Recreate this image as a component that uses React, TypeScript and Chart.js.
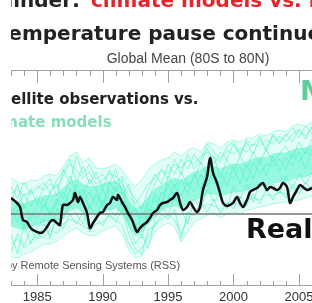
import React, { useEffect, useRef } from "react";
import { Chart, registerables } from "chart.js";

Chart.register(...registerables);

// ---- axis ticks ----
const tickYears = [1983, 1984, 1985, 1986, 1987, 1988, 1989, 1990, 1991, 1992, 1993, 1994, 1995, 1996, 1997, 1998, 1999, 2000, 2001, 2002, 2003, 2004, 2005, 2006];
const majorYears = [1985, 1990, 1995, 2000, 2005];
const majorLabels = ["1985", "1990", "1995", "2000", "2005"];

// ---- RSS observations (black) ----
const rssYears = [1983.0, 1983.46, 1983.69, 1983.92, 1984.22, 1984.45, 1984.68, 1985.22, 1985.45, 1985.75, 1985.98, 1986.21, 1986.51, 1986.74, 1986.97, 1987.28, 1987.51, 1987.74, 1987.89, 1988.12, 1988.27, 1988.5, 1988.81, 1989.04, 1989.27, 1989.57, 1989.8, 1990.03, 1990.34, 1990.56, 1990.79, 1991.1, 1991.18, 1991.48, 1991.71, 1991.94, 1992.25, 1992.48, 1992.63, 1992.86, 1993.09, 1993.39, 1993.62, 1993.85, 1994.16, 1994.39, 1994.62, 1994.92, 1995.15, 1995.38, 1995.69, 1995.92, 1996.15, 1996.45, 1996.68, 1996.91, 1997.21, 1997.44, 1997.67, 1997.98, 1998.21, 1998.44, 1998.74, 1998.97, 1999.2, 1999.5, 1999.73, 1999.96, 2000.27, 2000.5, 2000.73, 2001.03, 2001.26, 2001.49, 2001.8, 2002.03, 2002.26, 2002.56, 2002.79, 2003.02, 2003.33, 2003.55, 2003.78, 2004.09, 2004.32, 2004.55, 2004.85, 2005.08, 2005.31, 2005.62, 2006.0];
const rssValues = [0.16, 0.11, 0.07, -0.06, -0.08, -0.13, -0.16, -0.19, -0.18, -0.13, -0.08, -0.06, -0.09, -0.11, 0.09, 0.09, 0.11, 0.14, 0.21, 0.12, 0.17, 0.11, 0.01, -0.14, -0.09, -0.03, 0.01, 0.02, 0.09, 0.11, 0.17, 0.14, 0.19, 0.12, 0.07, 0.01, -0.06, -0.14, -0.18, -0.14, -0.11, -0.08, -0.04, 0.01, 0.04, 0.09, 0.11, 0.12, 0.14, 0.16, 0.21, 0.11, 0.04, 0.07, 0.12, 0.07, 0.02, 0.07, 0.24, 0.37, 0.56, 0.41, 0.31, 0.21, 0.11, 0.08, 0.09, 0.11, 0.17, 0.11, 0.07, 0.14, 0.22, 0.24, 0.26, 0.29, 0.31, 0.24, 0.27, 0.26, 0.24, 0.26, 0.31, 0.27, 0.11, 0.17, 0.24, 0.29, 0.27, 0.24, 0.26];

// ---- climate models (teal) ----
const modelYears = [1983.0, 1983.5, 1984.0, 1984.5, 1985.0, 1985.5, 1986.0, 1986.5, 1987.0, 1987.5, 1988.0, 1988.5, 1989.0, 1989.5, 1990.0, 1990.5, 1991.0, 1991.5, 1992.0, 1992.5, 1993.0, 1993.5, 1994.0, 1994.5, 1995.0, 1995.5, 1996.0, 1996.5, 1997.0, 1997.5, 1998.0, 1998.5, 1999.0, 1999.5, 2000.0, 2000.5, 2001.0, 2001.5, 2002.0, 2002.5, 2003.0, 2003.5, 2004.0, 2004.5, 2005.0, 2005.5, 2006.0];
const modelOuterUpper = [0.36, 0.32, 0.30, 0.34, 0.33, 0.38, 0.40, 0.38, 0.48, 0.58, 0.62, 0.52, 0.56, 0.46, 0.45, 0.47, 0.50, 0.44, 0.34, 0.28, 0.34, 0.44, 0.50, 0.54, 0.56, 0.62, 0.58, 0.64, 0.66, 0.62, 0.72, 0.70, 0.66, 0.72, 0.74, 0.72, 0.76, 0.76, 0.80, 0.78, 0.82, 0.84, 0.82, 0.88, 0.90, 0.88, 0.92];
const modelOuterLower = [-0.43, -0.44, -0.40, -0.38, -0.34, -0.30, -0.30, -0.27, -0.22, -0.17, -0.14, -0.19, -0.22, -0.21, -0.17, -0.14, -0.12, -0.20, -0.36, -0.44, -0.42, -0.30, -0.18, -0.12, -0.09, -0.13, -0.28, -0.18, -0.08, -0.05, -0.01, 0.01, -0.04, 0.00, 0.02, 0.00, 0.04, 0.05, 0.07, 0.08, 0.10, 0.11, 0.12, 0.13, 0.14, 0.16, 0.18];
const modelInnerUpper = [0.14, 0.12, 0.10, 0.13, 0.15, 0.18, 0.19, 0.20, 0.26, 0.32, 0.34, 0.30, 0.27, 0.28, 0.30, 0.32, 0.33, 0.27, 0.14, 0.05, 0.09, 0.17, 0.25, 0.29, 0.33, 0.36, 0.33, 0.38, 0.42, 0.44, 0.48, 0.48, 0.45, 0.48, 0.50, 0.50, 0.52, 0.55, 0.57, 0.56, 0.60, 0.61, 0.61, 0.64, 0.66, 0.66, 0.69];
const modelInnerLower = [-0.12, -0.14, -0.16, -0.13, -0.11, -0.08, -0.07, -0.07, -0.02, 0.04, 0.06, 0.02, 0.00, 0.00, 0.02, 0.04, 0.06, 0.00, -0.12, -0.22, -0.18, -0.10, -0.02, 0.03, 0.07, 0.08, 0.06, 0.10, 0.14, 0.16, 0.20, 0.20, 0.18, 0.20, 0.22, 0.22, 0.24, 0.26, 0.28, 0.28, 0.31, 0.32, 0.32, 0.35, 0.37, 0.37, 0.40];
const modelRun1 = [0.20, 0.25, 0.18, 0.22, 0.28, 0.24, 0.30, 0.26, 0.38, 0.50, 0.44, 0.36, 0.42, 0.30, 0.34, 0.40, 0.38, 0.30, 0.18, 0.10, 0.20, 0.30, 0.36, 0.44, 0.40, 0.50, 0.46, 0.54, 0.50, 0.58, 0.62, 0.56, 0.52, 0.64, 0.60, 0.66, 0.62, 0.70, 0.68, 0.74, 0.70, 0.78, 0.72, 0.80, 0.84, 0.78, 0.86];
const modelRun2 = [-0.30, -0.25, -0.34, -0.28, -0.20, -0.24, -0.15, -0.20, -0.10, -0.05, -0.08, -0.12, -0.16, -0.10, -0.08, -0.02, -0.05, -0.12, -0.30, -0.40, -0.34, -0.22, -0.10, -0.05, 0.00, -0.06, -0.20, -0.05, 0.02, 0.06, 0.10, 0.08, 0.04, 0.10, 0.12, 0.08, 0.14, 0.16, 0.14, 0.20, 0.18, 0.22, 0.20, 0.24, 0.26, 0.24, 0.28];
const modelRun3 = [0.05, -0.08, 0.10, -0.05, 0.08, 0.15, -0.02, 0.12, 0.22, 0.10, 0.30, 0.12, 0.22, 0.08, 0.25, 0.12, 0.28, 0.05, 0.10, -0.18, 0.02, -0.05, 0.20, 0.10, 0.30, 0.15, 0.35, 0.20, 0.40, 0.25, 0.45, 0.30, 0.42, 0.28, 0.48, 0.30, 0.50, 0.35, 0.55, 0.38, 0.58, 0.42, 0.56, 0.48, 0.62, 0.45, 0.65];
const modelRun4 = [-0.10, 0.05, -0.15, 0.00, -0.05, 0.10, 0.00, 0.15, 0.05, 0.25, 0.15, 0.25, 0.05, 0.20, 0.10, 0.25, 0.15, 0.22, -0.05, -0.10, -0.25, 0.05, 0.02, 0.22, 0.15, 0.30, 0.18, 0.32, 0.22, 0.40, 0.28, 0.45, 0.25, 0.42, 0.35, 0.48, 0.32, 0.52, 0.40, 0.50, 0.48, 0.55, 0.45, 0.60, 0.52, 0.62, 0.58];
const modelRun5 = [0.28, 0.15, 0.32, 0.20, 0.25, 0.32, 0.20, 0.34, 0.42, 0.55, 0.32, 0.48, 0.30, 0.42, 0.25, 0.44, 0.30, 0.38, 0.25, 0.15, 0.05, 0.25, 0.40, 0.30, 0.50, 0.40, 0.55, 0.45, 0.60, 0.50, 0.66, 0.50, 0.62, 0.55, 0.70, 0.58, 0.72, 0.60, 0.75, 0.65, 0.78, 0.70, 0.80, 0.72, 0.85, 0.75, 0.88];
const modelRun6 = [-0.38, -0.20, -0.32, -0.15, -0.25, -0.10, -0.22, -0.05, -0.15, 0.00, -0.10, 0.02, -0.18, -0.05, -0.12, 0.00, -0.08, 0.05, -0.20, -0.35, -0.40, -0.15, -0.12, 0.00, -0.05, 0.05, -0.25, 0.02, -0.02, 0.12, 0.02, 0.15, 0.00, 0.12, 0.05, 0.18, 0.08, 0.20, 0.10, 0.25, 0.14, 0.24, 0.16, 0.30, 0.20, 0.32, 0.24];
const modelRun7 = [0.12, 0.30, 0.05, 0.25, 0.10, 0.28, 0.35, 0.18, 0.45, 0.30, 0.58, 0.40, 0.50, 0.35, 0.40, 0.30, 0.45, 0.20, 0.30, 0.05, -0.05, 0.15, 0.30, 0.45, 0.35, 0.55, 0.40, 0.60, 0.45, 0.55, 0.70, 0.62, 0.55, 0.68, 0.72, 0.60, 0.74, 0.68, 0.78, 0.62, 0.80, 0.72, 0.78, 0.86, 0.76, 0.88, 0.80];
const modelRun8 = [-0.20, -0.40, -0.10, -0.30, -0.15, -0.05, -0.25, 0.05, -0.05, 0.10, 0.00, -0.10, 0.10, -0.05, 0.15, 0.05, -0.02, 0.12, -0.10, -0.30, -0.20, -0.35, -0.05, 0.10, -0.02, 0.18, 0.05, -0.10, 0.15, 0.05, 0.25, 0.12, 0.20, 0.05, 0.28, 0.15, 0.30, 0.12, 0.32, 0.22, 0.30, 0.20, 0.38, 0.25, 0.40, 0.30, 0.42];
const modelRun9 = [0.00, 0.10, 0.20, 0.08, 0.18, 0.05, 0.22, 0.30, 0.15, 0.38, 0.22, 0.18, 0.35, 0.25, 0.05, 0.32, 0.22, 0.35, 0.00, 0.05, -0.12, 0.10, 0.15, 0.05, 0.38, 0.25, 0.42, 0.28, 0.35, 0.52, 0.38, 0.58, 0.35, 0.55, 0.42, 0.58, 0.45, 0.62, 0.50, 0.65, 0.52, 0.60, 0.68, 0.55, 0.72, 0.60, 0.75];
const modelRuns = [modelRun1, modelRun2, modelRun3, modelRun4, modelRun5, modelRun6, modelRun7, modelRun8, modelRun9];

// zero reference line
const zeroYears = [1983, 2006];
const zeroValues = [0, 0];

const pts = (xs: number[], ys: number[]) => xs.map((x, i) => ({ x, y: ys[i] }));

const DJB = '"DejaVu Sans", sans-serif';
const LIB = '"Liberation Sans", Arial, sans-serif';

const overlayPlugin = {
  id: "overlay",
  afterDraw(chart: any) {
    const { ctx, chartArea: a } = chart;
    const xs = chart.scales.x;
    ctx.save();
    ctx.beginPath();
    ctx.rect(11, 0, 301, 303);
    ctx.clip();

    // axis lines
    ctx.strokeStyle = "#a0a0a0";
    ctx.lineWidth = 1;
    ctx.beginPath();
    ctx.moveTo(a.left, a.top + 0.5);
    ctx.lineTo(a.right, a.top + 0.5);
    ctx.moveTo(a.left, a.bottom + 0.5);
    ctx.lineTo(a.right, a.bottom + 0.5);
    ctx.stroke();
    ctx.beginPath();
    tickYears.forEach((yr) => {
      const px = Math.round(xs.getPixelForValue(yr)) + 0.5;
      const major = majorYears.includes(yr);
      ctx.moveTo(px, a.top);
      ctx.lineTo(px, a.top + (major ? 13 : 6));
      ctx.moveTo(px, a.bottom + 1);
      ctx.lineTo(px, a.bottom - (major ? 11 : 4));
    });
    ctx.stroke();

    // tick labels
    ctx.fillStyle = "#333";
    ctx.font = `13px ${LIB}`;
    ctx.textAlign = "center";
    ctx.textBaseline = "middle";
    majorYears.forEach((yr, i) => {
      ctx.fillText(majorLabels[i], xs.getPixelForValue(yr), 297);
    });

    ctx.textBaseline = "alphabetic";
    const drawFrom = (prefix: string, rest: string, x: number, y: number) => {
      ctx.textAlign = "left";
      const w = ctx.measureText(prefix).width;
      ctx.fillText(prefix + rest, x - w, y);
    };

    // header line 1 (cut at top)
    ctx.font = `bold 20px ${DJB}`;
    ctx.fillStyle = "#222";
    ctx.textAlign = "right";
    ctx.fillText("Reminder:", 80, 7);
    ctx.fillStyle = "#e8232b";
    ctx.textAlign = "left";
    ctx.fillText("climate models vs. reality", 91, 7);

    // header line 2
    ctx.font = `bold 20px ${DJB}`;
    ctx.fillStyle = "#222";
    drawFrom("T", "emperature pause continues", 11, 40);

    // subtitle
    ctx.font = `14px ${LIB}`;
    ctx.fillStyle = "#444";
    ctx.textAlign = "center";
    ctx.fillText("Global Mean (80S to 80N)", 188, 63);

    // in-plot labels
    ctx.font = `bold 15px ${DJB}`;
    ctx.fillStyle = "#222";
    drawFrom("Sat", "ellite observations vs.", 11, 104);
    ctx.fillStyle = "#88e0b8";
    drawFrom("Clim", "ate models", 18, 127);

    ctx.font = `bold 27px ${DJB}`;
    ctx.fillStyle = "#5fcf98";
    ctx.textAlign = "left";
    ctx.fillText("Models", 300, 100);
    ctx.fillStyle = "#111";
    ctx.fillText("Reality", 246, 238);

    ctx.font = `11px ${LIB}`;
    ctx.fillStyle = "#555";
    drawFrom("Data b", "y Remote Sensing Systems (RSS)", 12, 269);

    ctx.restore();
  },
};

export default function App() {
  const ref = useRef<HTMLCanvasElement | null>(null);
  useEffect(() => {
    document.body.style.margin = "0";
    if (!ref.current) return;
    const runDatasets = modelRuns.map((run) => ({
      data: pts(modelYears, run),
      borderColor: "rgba(80,240,200,0.6)",
      borderWidth: 1,
      pointRadius: 0,
      fill: false,
      order: 2,
      tension: 0,
    }));
    const chart = new Chart(ref.current, {
      type: "line",
      data: {
        datasets: [
          {
            data: pts(modelYears, modelOuterUpper),
            borderColor: "rgba(110,245,210,0.55)",
            borderWidth: 1,
            backgroundColor: "rgba(120,245,212,0.22)",
            pointRadius: 0,
            fill: "+1",
            order: 4,
          },
          {
            data: pts(modelYears, modelOuterLower),
            borderColor: "rgba(110,245,210,0.55)",
            borderWidth: 1,
            pointRadius: 0,
            fill: false,
            order: 4,
          },
          {
            data: pts(modelYears, modelInnerUpper),
            borderColor: "rgba(100,245,208,0.4)",
            borderWidth: 1,
            backgroundColor: "rgba(100,245,208,0.6)",
            pointRadius: 0,
            fill: "+1",
            order: 3,
          },
          {
            data: pts(modelYears, modelInnerLower),
            borderColor: "rgba(100,245,208,0.4)",
            borderWidth: 1,
            pointRadius: 0,
            fill: false,
            order: 3,
          },
          ...runDatasets,
          {
            data: pts(zeroYears, zeroValues),
            borderColor: "#777",
            borderWidth: 1.5,
            pointRadius: 0,
            fill: false,
            order: 1,
          },
          {
            data: pts(rssYears, rssValues),
            borderColor: "#111",
            borderWidth: 2.5,
            pointRadius: 0,
            fill: false,
            order: 0,
            tension: 0.3,
          },
        ] as any,
      },
      options: {
        responsive: false,
        maintainAspectRatio: false,
        animation: false,
        layout: { padding: { left: 11, right: 0, top: 70, bottom: 18 } },
        scales: {
          x: { type: "linear", min: 1983, max: 2006, display: false },
          y: { type: "linear", min: -0.71, max: 1.44, display: false },
        },
        plugins: {
          legend: { display: false },
          tooltip: { enabled: false },
        },
      },
      plugins: [overlayPlugin],
    });
    return () => chart.destroy();
  }, []);
  return (
    <div style={{ position: "fixed", left: 0, top: 0, width: 312, height: 303, background: "#fff" }}>
      <canvas ref={ref} width={312} height={303} style={{ display: "block" }} />
    </div>
  );
}
